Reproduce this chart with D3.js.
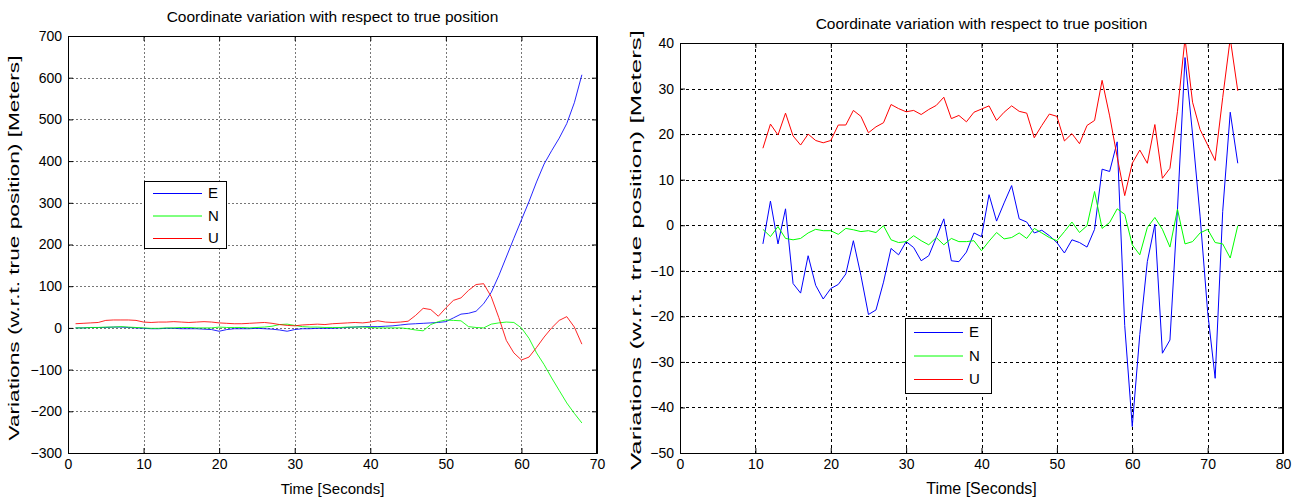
<!DOCTYPE html>
<html>
<head>
<meta charset="utf-8">
<script src="https://cdn.jsdelivr.net/npm/d3@7"></script>
<style>
  body { margin: 0; background: #fff; }
  text { font-family: Arial, "Liberation Sans", sans-serif; fill: #000; }
</style>
</head>
<body>
<div id="root"></div>
<script>
// Left panel: samples every second, t = 1..68
const timeA = d3.range(1, 69);
const eastA = [0, 0, 1, 1, 1, 2, 2, 1, 0, -1, -2, -2, -1, -1, -2, -2, -2, -3, -4, -8,
  -4, -2, -2, -2, -1, -2, -3, -5, -8, -4, -2, -2, -1, -1, -1, 0, 1, 2, 3, 3,
  3, 4, 5, 7, 9, 10, 11, 12, 13, 15, 24, 33, 35, 40, 58, 85, 125, 170, 215, 259,
  303, 350, 393, 425, 455, 490, 540, 607];
const northA = [0, 0, 1, 1, 2, 2, 3, 2, 1, 0, -1, -1, 0, 0, 1, 1, 0, 0, 0, 2,
  1, 1, 1, 0, 1, 2, 4, 8, 9, 6, 3, 2, 2, 1, 1, 1, 2, 2, 2, 1,
  0, 0, 0, 0, -2, -5, -7, 8, 15, 19, 18, 17, 3, 1, 0, 9, 12, 14, 13, 0,
  -25, -60, -88, -120, -150, -180, -205, -228];
const upA = [10, 11, 12, 13, 18, 19, 19, 19, 18, 14, 13, 14, 14, 15, 14, 13, 14, 15, 14, 12,
  11, 10, 10, 11, 12, 13, 11, 8, 6, 5, 7, 8, 9, 8, 10, 11, 12, 13, 12, 14,
  17, 14, 13, 14, 16, 30, 47, 44, 28, 48, 66, 72, 90, 104, 106, 75, 25, -30, -60, -77,
  -70, -47, -22, 0, 18, 27, 2, -39];

// Right panel: samples every second, t = 11..74
const timeB = d3.range(11, 75);
const eastB = [-4.1, 5.3, -4.1, 3.6, -12.8, -14.9, -6.7, -13.2, -16.2, -13.9,
  -13.0, -10.7, -3.4, -11.0, -19.6, -18.6, -12.5, -5.1, -6.5, -3.6,
  -4.9, -7.8, -6.7, -2.7, 1.4, -7.8, -8.0, -5.9, -1.7, -2.5,
  6.7, 0.9, 4.9, 8.7, 1.4, 0.7, -1.7, -1.1, -2.3, -3.8,
  -6.1, -3.2, -3.8, -4.8, -0.9, 12.3, 11.8, 18.3, -22.0, -44.2,
  -24, -8, 0.2, -28.1, -25.2, 3.5, 36.8, 20, 2, -19,
  -33.6, 3, 24.8, 13.6];
const northB = [-0.9, -2.5, -0.3, -2.9, -3.2, -2.9, -1.7, -0.9, -1.2, -1.2,
  -2.0, -0.7, -1.0, -1.4, -1.2, -1.6, -0.1, -3.2, -3.8, -3.6,
  -2.3, -3.4, -4.3, -2.7, -4.3, -2.9, -3.6, -3.6, -3.4, -5.6,
  -3.5, -1.6, -3.0, -2.7, -1.7, -2.9, -0.7, -1.7, -2.7, -3.4,
  -1.4, 0.7, -1.6, -0.1, 7.4, -0.7, 0.6, 3.6, 2.4, -4.3,
  -6.5, -0.5, 1.7, -0.9, -4.8, 3.5, -4.1, -3.6, -1.7, -0.9,
  -3.8, -4.1, -7.2, -0.1];
const upB = [16.9, 22.2, 19.8, 24.6, 19.6, 17.6, 20.0, 18.6, 18.1, 18.6,
  22.0, 22.0, 25.2, 23.9, 20.3, 21.6, 22.5, 26.5, 25.6, 24.9,
  25.2, 24.3, 25.4, 26.3, 28.1, 23.4, 24.1, 22.7, 24.8, 25.5,
  26.2, 23.0, 24.8, 26.2, 25.0, 24.6, 19.2, 21.9, 24.4, 23.9,
  18.5, 20.1, 17.9, 21.9, 23.0, 31.8, 24, 15, 6.5, 13.6,
  16.5, 13.6, 22.1, 10.3, 12.5, 25, 41, 27, 21, 17.6,
  14.2, 28, 41, 29.5];

const seriesNames = ['E', 'N', 'U'];
const seriesColors = ['#0000ff', '#00ff00', '#ff0000'];

const titleText = 'Coordinate variation with respect to true position';
const xLabel = 'Time [Seconds]';
const yLabel = 'Variations (w.r.t. true position) [Meters]';

const svg = d3.select('#root')
  .append('svg')
  .attr('width', 1301)
  .attr('height', 501);

function drawPanel(p) {
  const x = d3.scaleLinear().domain(p.xDomain).range([p.left, p.right]);
  const y = d3.scaleLinear().domain(p.yDomain).range([p.bottom, p.top]);
  const g = svg.append('g');
  const w = p.right - p.left;
  const h = p.bottom - p.top;

  g.append('clipPath').attr('id', p.id)
    .append('rect')
    .attr('x', p.left).attr('y', p.top).attr('width', w).attr('height', h);

  // grid
  const grid = g.append('g')
    .attr('stroke', p.gridColor)
    .attr('stroke-width', 1)
    .attr('stroke-dasharray', p.dash);
  grid.selectAll('.gx')
    .data(p.xTicks.slice(1, -1))
    .enter().append('line')
    .attr('x1', d => Math.round(x(d)) + 0.5).attr('x2', d => Math.round(x(d)) + 0.5)
    .attr('y1', p.top).attr('y2', p.bottom);
  grid.selectAll('.gy')
    .data(p.yTicks.slice(1, -1))
    .enter().append('line')
    .attr('y1', d => Math.round(y(d)) + 0.5).attr('y2', d => Math.round(y(d)) + 0.5)
    .attr('x1', p.left).attr('x2', p.right);

  // lines
  const series = [p.east, p.north, p.up];
  const line = d3.line()
    .x((d, i) => x(p.time[i]))
    .y(d => y(d));
  g.append('g').attr('clip-path', `url(#${p.id})`)
    .selectAll('path')
    .data(series)
    .enter().append('path')
    .attr('d', d => line(d))
    .attr('fill', 'none')
    .attr('stroke', (d, i) => seriesColors[i])
    .attr('stroke-opacity', p.lineOpacity)
    .attr('stroke-width', 1);

  // axes, ticks inward on all four sides
  const tickLen = 5;
  g.append('g')
    .attr('transform', `translate(0,${p.bottom})`)
    .call(d3.axisBottom(x).tickValues(p.xTicks).tickSize(-tickLen).tickPadding(6));
  g.append('g')
    .attr('transform', `translate(0,${p.top})`)
    .call(d3.axisTop(x).tickValues(p.xTicks).tickSize(-tickLen).tickFormat(''));
  g.append('g')
    .attr('transform', `translate(${p.left},0)`)
    .call(d3.axisLeft(y).tickValues(p.yTicks).tickSize(-tickLen).tickPadding(6));
  g.append('g')
    .attr('transform', `translate(${p.right},0)`)
    .call(d3.axisRight(y).tickValues(p.yTicks).tickSize(-tickLen).tickFormat(''));
  g.selectAll('.domain').attr('stroke', '#000');
  g.selectAll('.tick line').attr('stroke', '#000');
  g.selectAll('.tick text')
    .style('font-family', 'Arial, "Liberation Sans", sans-serif')
    .style('font-size', p.tickFont + 'px')
    .attr('fill', '#000');

  // box
  g.append('rect')
    .attr('x', p.left + 0.5).attr('y', p.top + 0.5)
    .attr('width', w - 1).attr('height', h)
    .attr('fill', 'none').attr('stroke', '#000');

  // titles
  g.append('text')
    .attr('x', (p.left + p.right) / 2).attr('y', p.top - p.titleGap)
    .attr('text-anchor', 'middle')
    .style('font-size', '15.5px')
    .text(titleText);
  g.append('text')
    .attr('x', (p.left + p.right) / 2).attr('y', p.bottom + 41)
    .attr('text-anchor', 'middle')
    .style('font-size', p.labelFont + 'px')
    .text(xLabel);
  g.append('text')
    .attr('transform', `translate(${p.yLabelX},${p.yLabelY}) rotate(-90)`)
    .attr('text-anchor', 'middle')
    .attr('textLength', p.yLabelLen)
    .attr('lengthAdjust', 'spacingAndGlyphs')
    .style('font-size', '14px')
    .text(yLabel);

  // legend
  const lg = g.append('g').attr('transform', `translate(${p.legend[0]},${p.legend[1]})`);
  lg.append('rect')
    .attr('x', 0.5).attr('y', 0.5)
    .attr('width', p.legend[2]).attr('height', p.legend[3])
    .attr('fill', '#fff').attr('stroke', '#000');
  seriesNames.forEach((name, i) => {
    const yy = p.legendRow0 + i * p.legendStep;
    lg.append('line')
      .attr('x1', 9).attr('x2', 58)
      .attr('y1', yy + 0.5).attr('y2', yy + 0.5)
      .attr('stroke', seriesColors[i]);
    lg.append('text')
      .attr('x', 64).attr('y', yy + 5)
      .style('font-size', '15px')
      .text(name);
  });
}

drawPanel({
  id: 'clipA',
  left: 68, right: 597, top: 36, bottom: 453,
  xDomain: [0, 70], yDomain: [-300, 700],
  xTicks: d3.range(0, 71, 10), yTicks: d3.range(-300, 701, 100),
  time: timeA, east: eastA, north: northA, up: upA,
  gridColor: '#777', dash: '2,2', lineOpacity: 0.85,
  tickFont: 14, labelFont: 15, titleGap: 14,
  yLabelX: 19, yLabelY: 248, yLabelLen: 385,
  legend: [144, 181, 82, 67], legendRow0: 12, legendStep: 22.5
});

drawPanel({
  id: 'clipB',
  left: 680, right: 1283, top: 43, bottom: 453,
  xDomain: [0, 80], yDomain: [-50, 40],
  xTicks: d3.range(0, 81, 10), yTicks: d3.range(-50, 41, 10),
  time: timeB, east: eastB, north: northB, up: upB,
  gridColor: '#000', dash: '3,3', lineOpacity: 1,
  tickFont: 14, labelFont: 16, titleGap: 14,
  yLabelX: 641, yLabelY: 250, yLabelLen: 440,
  legend: [905, 318, 86, 75], legendRow0: 14, legendStep: 23.5
});
</script>
</body>
</html>
